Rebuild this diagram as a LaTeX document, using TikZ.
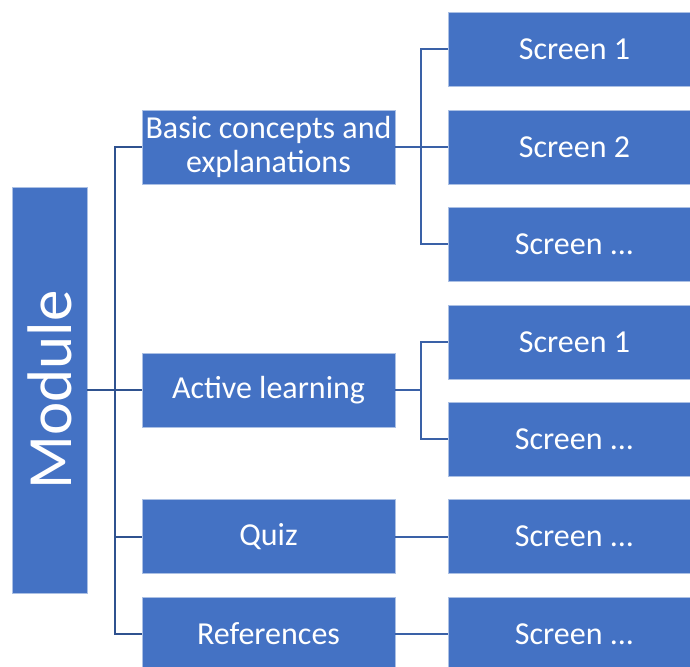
\documentclass[tikz,border=0pt]{standalone}
\usepackage{fontspec}
\setmainfont{Carlito}
\definecolor{boxblue}{HTML}{4472C4}
\definecolor{linedark}{HTML}{2F528F}
\begin{document}
\begin{tikzpicture}[x=1pt,y=-1pt]
	\useasboundingbox(0,0)rectangle(690,666);
	\clip(0,0)rectangle(690,666);
	\tikzset{box/.style={fill=boxblue,draw=white!55!boxblue,line width=.5pt,text=white,
		minimum width=253pt,minimum height=74pt,inner sep=0pt,align=center,
		font=\fontsize{32}{33.5}\selectfont},
		linka/.style={draw=linedark,line width=2pt},
		linkb/.style={draw=boxblue!85!black,line width=2pt}}
	\node[box,minimum width=406pt,minimum height=75pt,rotate=90,
		font=\fontsize{63}{70}\selectfont](mod)at(49.5,390){Module};
	\node[box](basic)at(268.5,147){Basic concepts and\\explanations};
	\node[box](active)at(268.5,390){Active learning};
	\node[box](quiz)at(268.5,536.5){Quiz};
	\node[box](refs)at(268.5,634){References};
	\node[box](s11)at(574.5,49){Screen 1};
	\node[box](s12)at(574.5,147){Screen 2};
	\node[box](s13)at(574.5,244){Screen ...};
	\node[box](s21)at(574.5,342){Screen 1};
	\node[box](s22)at(574.5,439){Screen ...};
	\node[box](s31)at(574.5,536.5){Screen ...};
	\node[box](s41)at(574.5,634){Screen ...};
	% module to sections
	\draw[linka](mod.south)--(active.west);
	\draw[linka](basic.west)-|([xshift=-27pt]refs.west)--(refs.west);
	\draw[linka](quiz.west)--++(-27,0);
	% sections to screens
	\draw[linkb](basic.east)--++(26,0);
	\draw[linkb](s11.west)-|([xshift=-27pt]s13.west)--(s13.west);
	\draw[linkb](s12.west)--++(-27,0);
	\draw[linkb](active.east)--++(26,0);
	\draw[linkb](s21.west)-|([xshift=-27pt]s22.west)--(s22.west);
	\draw[linkb](quiz.east)--(s31.west);
	\draw[linkb](refs.east)--(s41.west);
\end{tikzpicture}
\end{document}
